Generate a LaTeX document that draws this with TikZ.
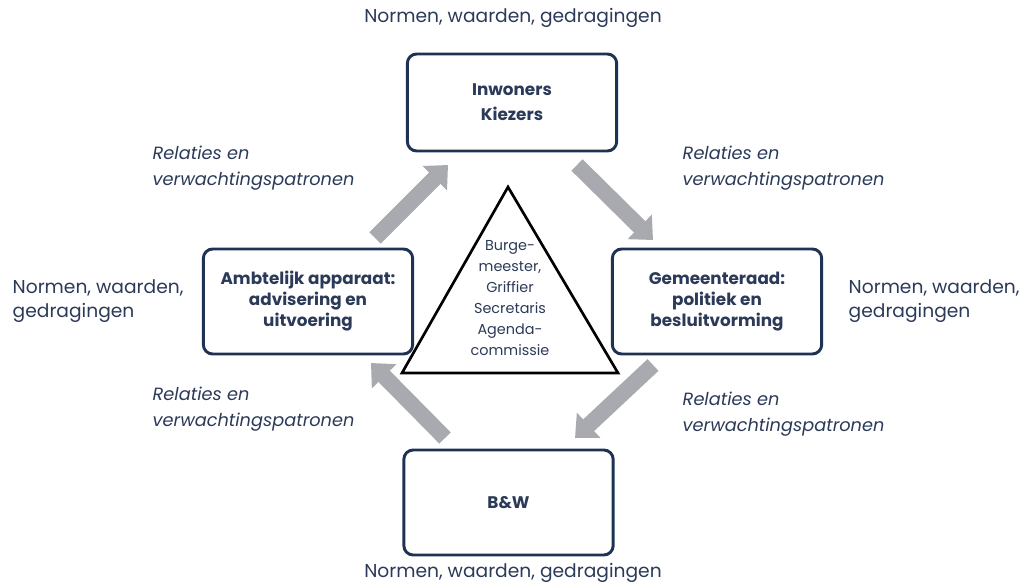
\documentclass[tikz,border=0pt]{standalone}
\usepackage{fontspec}
\setmainfont{Poppins}
\usetikzlibrary{arrows.meta}
\definecolor{navy}{HTML}{1E3353}
\definecolor{ink}{HTML}{2B3A58}
\definecolor{flow}{HTML}{A8AAAF}
\begin{document}
\begin{tikzpicture}[x=0.75pt,y=-0.75pt,
  box/.style={draw=navy, line width=2.2pt, rounded corners=7pt,
    minimum width=157pt, align=center, text=ink, inner sep=0pt,
    font=\fontsize{12.6}{15.75}\selectfont\bfseries},
  caption/.style={font=\fontsize{14}{18}\selectfont, text=ink, align=left},
  relation/.style={font=\fontsize{13.3}{19.5}\selectfont\itshape, text=ink,
    align=left, anchor=west},
  flowarrow/.style={draw=flow, line width=12pt,
    -{Triangle[length=14pt,width=25pt]}}]
\useasboundingbox (0,0) rectangle (1024,588);

% the four actors
\node[box, minimum height=72.75pt, font=\fontsize{12.6}{18.5}\selectfont\bfseries]
  (kiezers) at (512,102.5) {Inwoners\\Kiezers};
\node[box, minimum height=78.75pt] (ambt) at (308,301.5) {Ambtelijk apparaat:\\advisering en\\uitvoering};
\node[box, minimum height=78.75pt] (raad) at (717,301.5) {Gemeenteraad:\\politiek en\\besluitvorming};
\node[box, minimum height=78.75pt] (bw) at (508.5,502.5) {B\&W};

% central triangle
\coordinate (apex) at (508,187);
\coordinate (baseL) at (402,373);
\coordinate (baseR) at (618,373);
\draw[black, line width=2pt, line join=miter] (apex) -- (baseR) -- (baseL) -- cycle;
\node[text=ink, align=center, font=\fontsize{10.8}{15.75}\selectfont] (kern) at (510,298)
  {Burge-\\meester,\\Griffier\\Secretaris\\Agenda-\\commissie};

% flows between the actors
\coordinate (a1s) at (375,238);  \coordinate (a1e) at (448,165);
\coordinate (a2s) at (577,165);  \coordinate (a2e) at (653,240);
\coordinate (a3s) at (653,365);  \coordinate (a3e) at (575,438);
\coordinate (a4s) at (445,438);  \coordinate (a4e) at (371,363);
\draw[flowarrow] (a1s) -- (a1e);
\draw[flowarrow] (a2s) -- (a2e);
\draw[flowarrow] (a3s) -- (a3e);
\draw[flowarrow] (a4s) -- (a4e);

% norms around each actor
\node[caption] (nTop) at (513,18) {Normen, waarden, gedragingen};
\node[caption] (nBot) at (513,573) {Normen, waarden, gedragingen};
\node[caption, anchor=west] (nLeft) at (8,301) {Normen, waarden,\\gedragingen};
\node[caption, anchor=west] (nRight) at (844,301) {Normen, waarden,\\gedragingen};

% relations along the flows
\node[relation] (r1) at (148,168) {Relaties en\\verwachtingspatronen};
\node[relation] (r2) at (678,168) {Relaties en\\verwachtingspatronen};
\node[relation] (r3) at (148,409) {Relaties en\\verwachtingspatronen};
\node[relation] (r4) at (678,414) {Relaties en\\verwachtingspatronen};
\end{tikzpicture}
\end{document}
